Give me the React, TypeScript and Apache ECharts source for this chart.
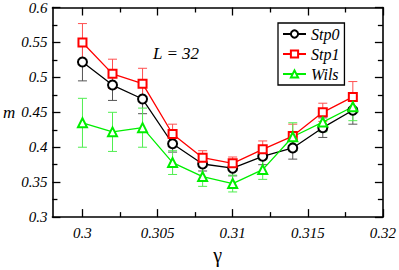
import React, { useEffect, useRef } from "react";
import * as echarts from "echarts";

const gammas = [0.3, 0.302, 0.304, 0.306, 0.308, 0.31, 0.312, 0.314, 0.316, 0.318];
const stp0 = [0.522, 0.489, 0.469, 0.405, 0.376, 0.37, 0.387, 0.399, 0.428, 0.453];
const stp0Err = [0.027, 0.022, 0.021, 0.012, 0.01, 0.011, 0.012, 0.016, 0.014, 0.02];
const stp1 = [0.55, 0.505, 0.491, 0.419, 0.385, 0.377, 0.397, 0.416, 0.45, 0.472];
const stp1Err = [0.027, 0.021, 0.022, 0.014, 0.01, 0.009, 0.012, 0.017, 0.013, 0.022];
const wils = [0.435, 0.422, 0.428, 0.378, 0.358, 0.348, 0.368, 0.415, 0.436, 0.458];
const wilsErr = [0.035, 0.028, 0.028, 0.017, 0.014, 0.012, 0.014, 0.02, 0.014, 0.02];

const xMajor = [0.3, 0.305, 0.31, 0.315, 0.32];
const xMinor = [0.3025, 0.3075, 0.3125, 0.3175];

const FONT = "Liberation Serif";
const annotation = "L = 32";

function errSeries(name: string, vals: number[], errs: number[], color: string) {
  return {
    type: "custom",
    name,
    xAxisIndex: 0,
    yAxisIndex: 0,
    z: 1,
    silent: true,
    data: gammas.map((g, i) => [g, vals[i] - errs[i], vals[i] + errs[i]]),
    renderItem: (params: any, api: any) => {
      const x = api.value(0);
      const lo = api.coord([x, api.value(1)]);
      const hi = api.coord([x, api.value(2)]);
      const hw = 4.5;
      const style = { stroke: color, lineWidth: 1 };
      return {
        type: "group",
        children: [
          { type: "line", shape: { x1: lo[0], y1: lo[1], x2: hi[0], y2: hi[1] }, style },
          { type: "line", shape: { x1: lo[0] - hw, y1: lo[1], x2: lo[0] + hw, y2: lo[1] }, style },
          { type: "line", shape: { x1: hi[0] - hw, y1: hi[1], x2: hi[0] + hw, y2: hi[1] }, style },
        ],
      };
    },
  };
}

function lineSeries(name: string, vals: number[], color: string, symbol: string, size: number) {
  return {
    type: "line",
    name,
    xAxisIndex: 0,
    yAxisIndex: 0,
    z: 3,
    data: gammas.map((g, i) => [g, vals[i]]),
    symbol,
    symbolSize: size,
    showAllSymbol: true,
    lineStyle: { color, width: 1.3 },
    itemStyle: { color, borderColor: color, borderWidth: 1.2 },
  };
}

export default function App() {
  const ref = useRef<HTMLDivElement>(null);
  useEffect(() => {
    document.body.style.margin = "0";
    const chart = echarts.init(ref.current!, null, { renderer: "svg" });
    const axisLineStyle = { color: "#000", width: 1.6 };
    const labelStyle = { fontFamily: FONT, fontStyle: "italic", fontSize: 15, color: "#000" };
    const xBase = { type: "value", min: 0.298, max: 0.32, gridIndex: 0, splitLine: { show: false } };
    const yBase = { type: "value", min: 0.3, max: 0.6, interval: 0.05, splitLine: { show: false } };
    chart.setOption({
      animation: false,
      backgroundColor: "#fff",
      textStyle: { fontFamily: FONT },
      grid: { left: 47, right: 14, top: 5, bottom: 33, containLabel: false },
      xAxis: [
        {
          ...xBase,
          position: "bottom",
          axisLine: { show: true, lineStyle: axisLineStyle },
          axisTick: { show: true, inside: true, length: 8, customValues: xMajor, lineStyle: { color: "#000", width: 1.3 } },
          axisLabel: { show: true, customValues: xMajor, margin: 8, ...labelStyle, formatter: (v: number) => String(+v.toFixed(4)) },
          name: "γ",
          nameLocation: "middle",
          nameGap: 19,
          nameTextStyle: { fontFamily: FONT, fontSize: 20, color: "#000" },
        },
        {
          ...xBase,
          position: "bottom",
          axisLine: { show: false },
          axisTick: { show: true, inside: true, length: 5, customValues: xMinor, lineStyle: { color: "#000", width: 1.3 } },
          axisLabel: { show: false },
        },
        {
          ...xBase,
          position: "top",
          axisLine: { show: true, lineStyle: axisLineStyle },
          axisTick: { show: true, inside: true, length: 8, customValues: xMajor, lineStyle: { color: "#000", width: 1.3 } },
          axisLabel: { show: false },
        },
        {
          ...xBase,
          position: "top",
          axisLine: { show: false },
          axisTick: { show: true, inside: true, length: 5, customValues: xMinor, lineStyle: { color: "#000", width: 1.3 } },
          axisLabel: { show: false },
        },
      ],
      yAxis: [
        {
          ...yBase,
          position: "left",
          axisLine: { show: true, lineStyle: axisLineStyle },
          axisTick: { show: true, inside: true, length: 8, lineStyle: { color: "#000", width: 1.3 } },
          minorTick: { show: true, splitNumber: 2, length: 5, lineStyle: { color: "#000", width: 1.3 } },
          axisLabel: { show: true, margin: 5, ...labelStyle },
          name: "m",
          nameLocation: "middle",
          nameRotate: 0,
          nameGap: 28,
          nameTextStyle: { fontFamily: FONT, fontStyle: "italic", fontSize: 17, color: "#000" },
        },
        {
          ...yBase,
          position: "right",
          axisLine: { show: true, lineStyle: axisLineStyle },
          axisTick: { show: true, inside: true, length: 8, lineStyle: { color: "#000", width: 1.3 } },
          minorTick: { show: true, splitNumber: 2, length: 5, lineStyle: { color: "#000", width: 1.3 } },
          axisLabel: { show: false },
        },
      ],
      legend: {
        data: ["Stp0", "Stp1", "Wils"],
        orient: "vertical",
        left: 278,
        top: 23,
        itemWidth: 23,
        itemHeight: 9,
        itemGap: 4,
        padding: [3, 5, 3, 4],
        backgroundColor: "#fff",
        borderColor: "#000",
        borderWidth: 1.3,
        borderRadius: 0,
        textStyle: { fontFamily: FONT, fontStyle: "italic", fontSize: 16, color: "#000" },
      },
      series: [
        errSeries("Stp0-err", stp0, stp0Err, "#555555"),
        errSeries("Stp1-err", stp1, stp1Err, "#ff5050"),
        errSeries("Wils-err", wils, wilsErr, "#50ee50"),
        lineSeries("Stp0", stp0, "#000000", "emptyCircle", 9),
        lineSeries("Stp1", stp1, "#ff0000", "emptyRect", 8),
        lineSeries("Wils", wils, "#00ee00", "emptyTriangle", 9),
      ],
    });
    const timer = setTimeout(() => {
      chart.resize();
    }, 0);
    return () => {
      clearTimeout(timer);
      chart.dispose();
    };
  }, []);
  return (
    <>
      <div ref={ref} style={{ position: "fixed", left: 0, top: 0, width: 399, height: 270 }} />
      <div
        style={{
          position: "fixed",
          left: 153,
          top: 45,
          fontFamily: FONT,
          fontStyle: "italic",
          fontSize: 17,
          lineHeight: "17px",
          color: "#000",
          whiteSpace: "nowrap",
          zIndex: 2,
        }}
      >
        {annotation}
      </div>
    </>
  );
}
